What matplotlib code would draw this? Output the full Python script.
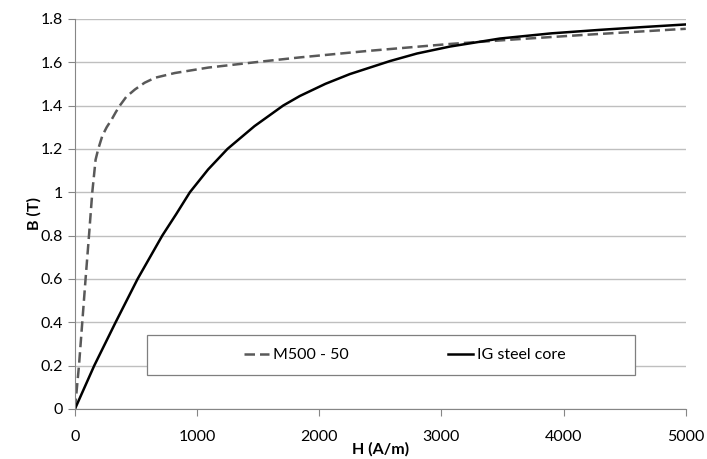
import matplotlib
matplotlib.use("Agg")
import matplotlib.pyplot as plt
from matplotlib.patches import Rectangle

plt.rcParams['font.family'] = ['Lato', 'DejaVu Sans']

# M500 - 50 curve
m500_h = [0, 33, 60, 87, 115, 142, 169, 191, 224, 260, 300, 335, 368, 420, 491, 570, 655,
          818, 1091, 1528, 1841, 2400, 3069, 3600, 4200, 5000]
m500_b = [0, 0.2, 0.4, 0.6, 0.8, 1.0, 1.15, 1.2, 1.26, 1.3, 1.335, 1.37, 1.4, 1.44, 1.474,
          1.505, 1.528, 1.55, 1.575, 1.603, 1.622, 1.652, 1.684, 1.705, 1.727, 1.754]

# IG steel core curve
ig_h = [0, 158, 333, 513, 715, 830, 941, 1090, 1249, 1470, 1705, 1841, 2050, 2250, 2578,
        2800, 3069, 3478, 3900, 4296, 4650, 5000]
ig_b = [0, 0.2, 0.4, 0.6, 0.8, 0.9, 1.0, 1.105, 1.2, 1.305, 1.4, 1.444, 1.5, 1.545, 1.605,
        1.64, 1.672, 1.709, 1.733, 1.749, 1.762, 1.774]

x_ticks = [0, 1000, 2000, 3000, 4000, 5000]
y_ticks = [0, 0.2, 0.4, 0.6, 0.8, 1.0, 1.2, 1.4, 1.6, 1.8]
y_labels = ['0', '0.2', '0.4', '0.6', '0.8', '1', '1.2', '1.4', '1.6', '1.8']

fig = plt.figure(figsize=(7.07, 4.59), dpi=100)
ax = fig.add_axes([0.106, 0.109, 0.864, 0.85])

ax.plot(m500_h, m500_b, color='#595959', lw=1.8, dashes=(4.2, 2.0), label='M500 - 50',
        solid_joinstyle='round')
ax.plot(ig_h, ig_b, color='black', lw=1.8, label='IG steel core', solid_joinstyle='round')

ax.set_xlim(0, 5000)
ax.set_ylim(0, 1.8)
ax.set_xticks(x_ticks)
ax.set_yticks(y_ticks)
ax.set_yticklabels(y_labels)
ax.grid(axis='y', color='#bfbfbf', lw=1)
ax.set_axisbelow(True)

for s in ['top', 'right']:
    ax.spines[s].set_visible(False)
for s in ['left', 'bottom']:
    ax.spines[s].set_color('#868686')
ax.tick_params(axis='both', colors='#868686', labelcolor='black', labelsize=11.5, length=5,
               direction='out')
ax.tick_params(axis='x', pad=10)

ax.set_xlabel('H (A/m)', fontsize=11.5, fontweight='bold', labelpad=-1)
ax.set_ylabel('B (T)', fontsize=11.5, fontweight='bold', labelpad=-1)

# legend box
box = Rectangle((0.118, 0.087), 0.799, 0.103, transform=ax.transAxes, facecolor='white',
                edgecolor='#7f7f7f', lw=0.9, zorder=3)
ax.add_patch(box)
leg = ax.legend(loc='center', bbox_to_anchor=(0.54, 0.138), ncol=2, fontsize=11.5,
                frameon=False, handlelength=1.6, borderaxespad=0, handletextpad=0.25,
                columnspacing=6.2)
leg.set_zorder(4)

fig.savefig('out.png', dpi=100)
